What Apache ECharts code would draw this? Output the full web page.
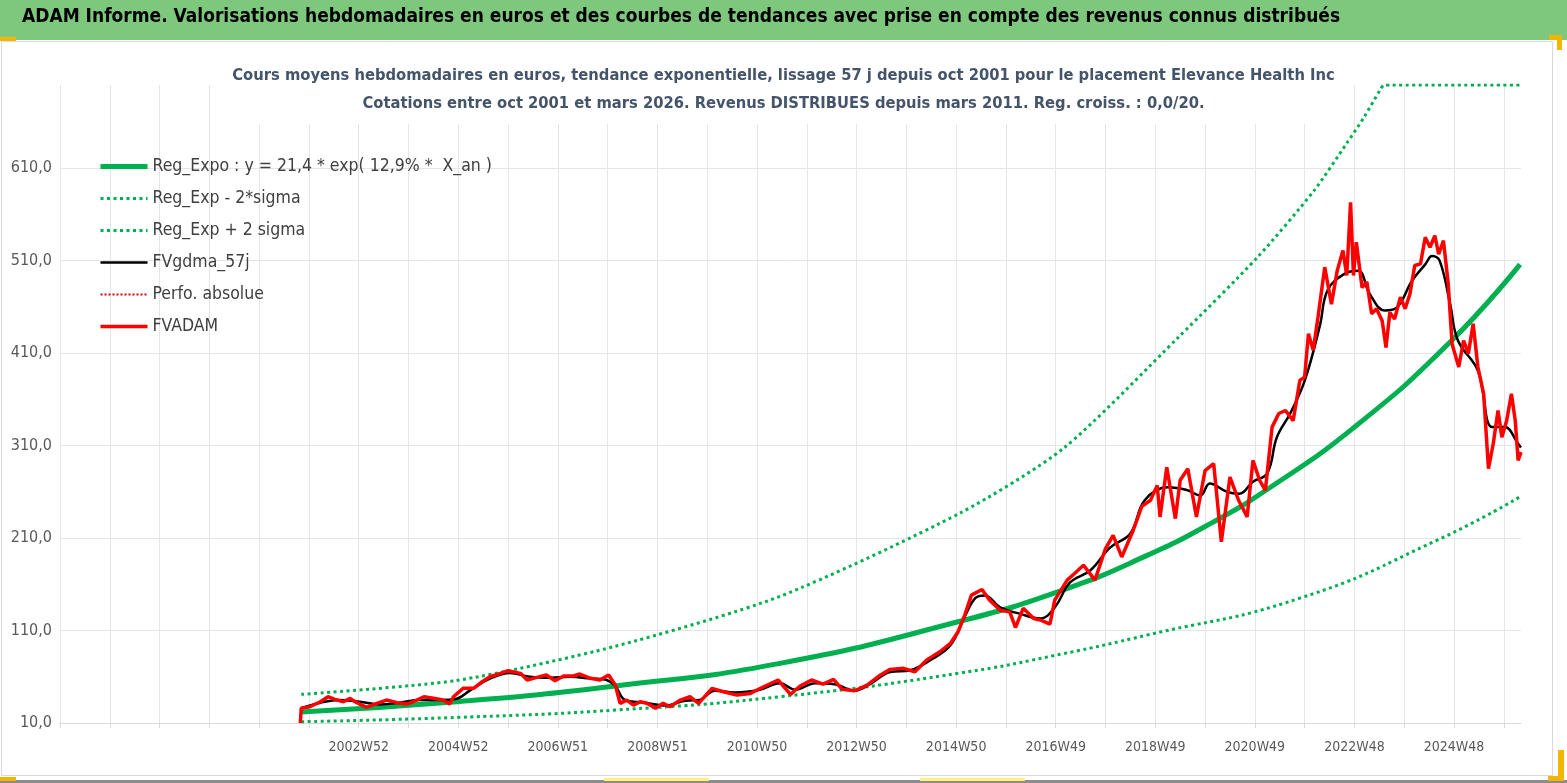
<!DOCTYPE html>
<html>
<head>
<meta charset="utf-8">
<script src="https://cdn.jsdelivr.net/npm/echarts@6/dist/echarts.min.js"></script>
<style>
html, body { margin: 0; padding: 0; background: #fff; }
#chart { width: 1567px; height: 783px; }
</style>
</head>
<body>
<div id="chart"></div>
<script>
// x values are week indexes from the start of the axis, a gridline every 52 weeks
const tickLabels = ['', '', '', '', '', '', '2002W52', '', '2004W52', '', '2006W51', '', '2008W51', '', '2010W50',
    '', '2012W50', '', '2014W50', '', '2016W49', '', '2018W49', '', '2020W49', '', '2022W48', '', '2024W48', '']

const regWeeks = [252, 414, 580, 752, 940, 1048, 1135, 1204, 1260, 1352, 1452, 1525]
const regValues = [22, 33, 50, 74.5, 120, 154, 191, 227, 262, 330, 422, 506]

const lowWeeks = [252, 414, 580, 752, 940, 1048, 1135, 1295, 1439, 1524]
const lowValues = [11.4, 16, 24, 38.4, 64, 85, 105, 145, 208, 254]

// values above the axis max sit on the top edge, as in the picture
const highWeeks = [252, 414, 580, 752, 940, 1048, 1168, 1251, 1310, 1344, 1362, 1379, 1383, 1390, 1525]
const highValues = [41, 56, 93, 147, 237, 307, 427, 514, 586, 637, 665, 695, 700, 700, 700]

const gdmaWeeks = [252, 272, 292, 313, 334, 355, 376, 397, 413, 428, 449, 470, 491, 512, 533, 554, 569, 580, 590, 611,
    632, 653, 668, 684, 705, 731, 752, 768, 789, 809, 830, 846, 867, 888, 909, 930, 945, 956, 966, 982,
    1003, 1024, 1039, 1055, 1076, 1097, 1118, 1133, 1157, 1177, 1191, 1201, 1219, 1232, 1246, 1261, 1271, 1285, 1300, 1316,
    1324, 1342, 1356, 1368, 1384, 1397, 1412, 1426, 1433, 1441, 1452, 1460, 1481, 1496, 1509, 1523, 1526]
const gdmaValues = [26, 32, 35, 33, 30, 32, 35, 35, 36, 45, 58, 64, 60, 59, 60, 58, 57, 50, 35, 32,
    29, 34, 35, 45, 43, 46, 53, 46, 53, 52, 45, 52, 65, 67, 78, 94, 125, 145, 148, 135,
    128, 123, 135, 162, 175, 200, 215, 251, 265, 262, 256, 269, 260, 258, 271, 280, 319, 345, 380, 440,
    478, 496, 499, 474, 456, 460, 488, 506, 515, 510, 463, 424, 391, 330, 330, 312, 308]

const adamWeeks = [251, 252, 261, 272, 280, 287, 296, 303, 310, 320, 331, 341, 352, 362, 369, 380, 390, 400, 407, 411,
    421, 432, 441, 449, 460, 468, 481, 488, 498, 508, 517, 526, 536, 543, 554, 564, 573, 580, 585, 592,
    599, 606, 613, 622, 630, 637, 648, 658, 667, 681, 693, 707, 721, 735, 750, 763, 773, 785, 797, 808,
    817, 830, 843, 857, 867, 881, 893, 905, 919, 930, 938, 945, 952, 963, 971, 982, 992, 998, 1006, 1017,
    1025, 1034, 1039, 1052, 1060, 1069, 1081, 1092, 1100, 1109, 1121, 1130, 1139, 1146, 1149, 1156, 1165, 1170, 1178, 1187,
    1196, 1205, 1213, 1222, 1231, 1240, 1246, 1253, 1259, 1266, 1273, 1280, 1288, 1295, 1300, 1304, 1309, 1314, 1321, 1328,
    1334, 1340, 1344, 1348, 1351, 1354, 1360, 1365, 1370, 1375, 1381, 1385, 1389, 1394, 1400, 1405, 1410, 1415, 1421, 1426,
    1431, 1436, 1440, 1445, 1450, 1454, 1461, 1466, 1471, 1476, 1481, 1487, 1492, 1497, 1502, 1506, 1511, 1516, 1520, 1523,
    1526]
const adamValues = [10, 26, 27.6, 33, 38.4, 35.5, 33, 36.6, 32, 27, 31.3, 34.8, 32, 30.5, 33, 38.4, 36.7, 34.8, 30.5, 38.4,
    47.5, 47.5, 54.6, 60, 63.7, 66.5, 63.7, 56.5, 59.3, 61.9, 55.7, 60.8, 60.8, 63, 58.3, 56.5, 61.9, 51, 31.3, 34.8,
    29.4, 33, 31.3, 25.9, 31.3, 27.6, 34.8, 38.4, 31.3, 47.5, 43.8, 40.2, 42, 49.2, 56.5, 41, 50, 56.5, 52.1, 57.2,
    46.4, 44.9, 51, 61.9, 68, 69.1, 65.4, 78, 87, 96, 108.6, 126.7, 148.3, 154.4, 142.9, 132, 130.2, 113.3, 134, 123,
    121, 117, 142.9, 164.5, 172, 180.7, 164.5, 198.7, 213, 189.6, 218.5, 244.4, 250.9, 267, 232.9, 286.6, 231, 272.5, 285, 232.9,
    283, 290.5, 205.9, 276, 250.9, 232.9, 294, 272.5, 261.7, 330, 344.7, 348, 337, 380.5, 384, 431, 413, 449, 503, 463,
    499, 521, 494, 573, 494, 530, 481, 487, 452.5, 458, 445, 416, 454, 447, 470.5, 458, 474, 504.8, 506.6, 535.4,
    524.5, 537, 517, 531.7, 485, 420, 395, 423.7, 409.4, 441.8, 395, 366, 285, 312, 348, 319, 337, 366, 337, 294,
    303]

const pair = (xs, ys) => xs.map((x, i) => [x, ys[i]])

const FONT = "'DejaVu Sans Condensed', 'Liberation Sans Narrow', sans-serif"
const GREEN = '#00b050'

const chart = echarts.init(document.getElementById('chart'))

chart.setOption({
    animation: false,
    backgroundColor: '#fff',
    graphic: [
        { type: 'rect', shape: { x: 0, y: 0, width: 1567, height: 40 }, style: { fill: '#7dc87d' }, z: -10 },
        { type: 'rect', shape: { x: 1.5, y: 41.5, width: 1551, height: 734 }, style: { fill: 'none', stroke: '#d9d9d9', lineWidth: 1 }, z: -10 },
        { type: 'rect', shape: { x: 0, y: 780, width: 1567, height: 3 }, style: { fill: '#8c8c8c' }, z: -10 },
        { type: 'rect', shape: { x: 0, y: 37, width: 16, height: 4 }, style: { fill: '#f2b600' } },
        { type: 'rect', shape: { x: 1549, y: 35, width: 13, height: 5 }, style: { fill: '#f2b600' } },
        { type: 'rect', shape: { x: 1557, y: 35, width: 5, height: 15 }, style: { fill: '#f2b600' } },
        { type: 'rect', shape: { x: 1558, y: 750, width: 6, height: 31 }, style: { fill: '#f2b600' } },
        { type: 'rect', shape: { x: 1548, y: 776, width: 16, height: 5 }, style: { fill: '#f2b600' } },
        { type: 'rect', shape: { x: 0, y: 777, width: 16, height: 4 }, style: { fill: '#f2b600' } },
        { type: 'rect', shape: { x: 604, y: 778, width: 105, height: 3 }, style: { fill: '#fff07a' } },
        { type: 'rect', shape: { x: 920, y: 778, width: 105, height: 3 }, style: { fill: '#fff07a' } }
    ],
    title: [
        {
            text: 'ADAM Informe. Valorisations hebdomadaires en euros et des courbes de tendances avec prise en compte des revenus connus distribués',
            left: 14,
            top: 8,
            padding: [0, 8],
            textStyle: { fontFamily: FONT, fontSize: 19, fontWeight: 'bold', color: '#000' }
        },
        {
            text: 'Cours moyens hebdomadaires en euros, tendance exponentielle, lissage 57 j depuis oct 2001 pour le placement Elevance Health Inc\nCotations entre oct 2001 et mars 2026. Revenus DISTRIBUES depuis mars 2011. Reg. croiss. : 0,0/20.',
            left: 'center',
            top: 58,
            padding: [4, 10, 6, 10],
            backgroundColor: '#fff',
            textStyle: { fontFamily: FONT, fontSize: 16.4, fontWeight: 'bold', color: '#44546a', lineHeight: 28, align: 'center' }
        }
    ],
    legend: {
        orient: 'vertical',
        left: 98,
        top: 156,
        padding: 0,
        itemWidth: 47,
        itemHeight: 14,
        itemGap: 11,
        itemStyle: { opacity: 0 },
        lineStyle: { width: 'inherit' },
        textStyle: { fontFamily: FONT, fontSize: 17.5, color: '#404040', lineHeight: 21 },
        data: ['Reg_Expo : y = 21,4 * exp( 12,9% *  X_an )', 'Reg_Exp - 2*sigma', 'Reg_Exp + 2 sigma', 'FVgdma_57j', 'Perfo. absolue', 'FVADAM']
    },
    grid: { left: 60, right: 46, top: 85, bottom: 60 },
    xAxis: {
        type: 'value',
        min: 0,
        max: 1526,
        interval: 52,
        axisLine: { show: true, lineStyle: { color: '#d9d9d9', width: 1 } },
        axisTick: { show: true, length: 5, lineStyle: { color: '#d9d9d9' } },
        splitLine: { show: true, showMaxLine: false, lineStyle: { color: '#e3e5ea', width: 1 } },
        axisLabel: {
            showMaxLabel: false,
            margin: 17,
            fontFamily: FONT,
            fontSize: 14,
            color: '#595959',
            formatter: v => tickLabels[Math.round(v / 52)] || ''
        }
    },
    yAxis: {
        type: 'value',
        min: 10,
        max: 700,
        interval: 100,
        axisLine: { show: false },
        axisTick: { show: false },
        splitLine: { show: true, showMaxLine: false, lineStyle: { color: '#e3e5ea', width: 1 } },
        axisLabel: {
            showMaxLabel: false,
            margin: 8,
            fontFamily: FONT,
            fontSize: 16,
            color: '#595959',
            formatter: v => v.toFixed(1).replace('.', ',')
        }
    },
    series: [
        {
            name: 'Reg_Expo : y = 21,4 * exp( 12,9% *  X_an )',
            type: 'line',
            data: pair(regWeeks, regValues),
            symbol: 'none',
            smooth: true,
            lineStyle: { color: GREEN, width: 5 },
            itemStyle: { color: GREEN }
        },
        {
            name: 'Reg_Exp - 2*sigma',
            type: 'line',
            data: pair(lowWeeks, lowValues),
            symbol: 'none',
            smooth: true,
            lineStyle: { color: GREEN, width: 3, type: [3, 3.5] },
            itemStyle: { color: GREEN }
        },
        {
            name: 'Reg_Exp + 2 sigma',
            type: 'line',
            data: pair(highWeeks, highValues),
            symbol: 'none',
            smooth: 0.25,
            lineStyle: { color: GREEN, width: 3, type: [3, 3.5] },
            itemStyle: { color: GREEN }
        },
        {
            name: 'FVgdma_57j',
            type: 'line',
            data: pair(gdmaWeeks, gdmaValues),
            symbol: 'none',
            smooth: 0.4,
            lineStyle: { color: '#000', width: 2.5 },
            itemStyle: { color: '#000' }
        },
        {
            name: 'Perfo. absolue',
            type: 'line',
            data: [],
            symbol: 'none',
            lineStyle: { color: '#e00000', width: 2, type: [2, 2] },
            itemStyle: { color: '#e00000' }
        },
        {
            name: 'FVADAM',
            type: 'line',
            data: pair(adamWeeks, adamValues),
            symbol: 'none',
            lineStyle: { color: '#ff0000', width: 3.5 },
            itemStyle: { color: '#ff0000' }
        }
    ]
})
</script>
</body>
</html>
